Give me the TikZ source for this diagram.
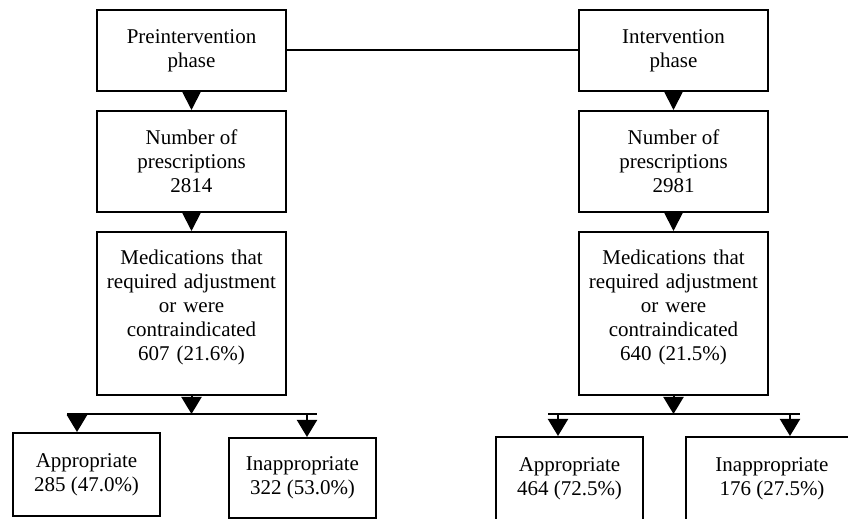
\documentclass[tikz,border=0pt]{standalone}
\usepackage{fontspec}
\setmainfont{Liberation Serif}
\usetikzlibrary{arrows.meta}

\begin{document}
\begin{tikzpicture}[x=0.5pt,y=-0.5pt]
\tikzstyle{every node}+=[font=\fontsize{10.5}{12}\selectfont]
\tikzstyle{box}=[draw=black,line width=1pt,align=center,inner sep=0pt]
\tikzstyle{link}=[black,line width=1pt]
\tikzstyle{tri}=[link,-{Triangle[width=9.5pt,length=9.5pt]}]
\tikzstyle{drop}=[link,-{Triangle[width=10pt,length=8.5pt]}]
\useasboundingbox (0,0) rectangle (848,519);
% left column
\node[box,minimum width=94.5pt,minimum height=40.5pt] (pre) at (191.5,50.5) {Preintervention\\phase};
\node[box,minimum width=94.5pt,minimum height=50.5pt] (num1) at (191.5,161.5) {Number of\\prescriptions\\2814};
\node[box,minimum width=94.5pt,minimum height=81.5pt,text width=88pt,text depth=56pt] (med1) at (191.5,313.5) {Medications that\\required adjustment\\or were\\contraindicated\\607 (21.6\%)};
\node[box,minimum width=73.5pt,minimum height=41.5pt] (app1) at (86.5,474.5) {Appropriate\\285 (47.0\%)};
\node[box,minimum width=73.5pt,minimum height=40pt] (inapp1) at (302.5,478) {Inappropriate\\322 (53.0\%)};
% right column
\node[box,minimum width=94.5pt,minimum height=40.5pt] (int) at (673.5,50.5) {Intervention\\phase};
\node[box,minimum width=94.5pt,minimum height=50.5pt] (num2) at (673.5,161.5) {Number of\\prescriptions\\2981};
\node[box,minimum width=94.5pt,minimum height=81.5pt,text width=88pt,text depth=56pt] (med2) at (673.5,313.5) {Medications that\\required adjustment\\or were\\contraindicated\\640 (21.5\%)};
\node[box,minimum width=73.5pt,minimum height=41.5pt] (app2) at (569.5,478.5) {Appropriate\\464 (72.5\%)};
\node[box,minimum width=86pt,minimum height=41.5pt] (inapp2) at (772,478.5) {Inappropriate\\176 (27.5\%)};
% split points
\coordinate (s1l) at (77,414);
\coordinate (s1r) at (307,414);
\coordinate (s2l) at (558,414);
\coordinate (s2r) at (790,414);
% connectors
\draw[link] (pre.east) -- (int.west);
\draw[tri] (pre.south) -- (num1.north);
\draw[tri] (num1.south) -- (med1.north);
\draw[tri] (int.south) -- (num2.north);
\draw[tri] (num2.south) -- (med2.north);
\draw[drop] (med1.south) -- (med1.south |- s1l);
\draw[drop] (med2.south) -- (med2.south |- s2l);
\draw[link] ([xshift=-5pt]s1l) -- ([xshift=5pt]s1r);
\draw[link] ([xshift=-5pt]s2l) -- ([xshift=5pt]s2r);
\draw[drop] (s1l) -- (s1l |- app1.north);
\draw[drop] (s1r) -- (s1r |- inapp1.north);
\draw[drop] (s2l) -- (s2l |- app2.north);
\draw[drop] (s2r) -- (s2r |- inapp2.north);
\end{tikzpicture}
\end{document}
